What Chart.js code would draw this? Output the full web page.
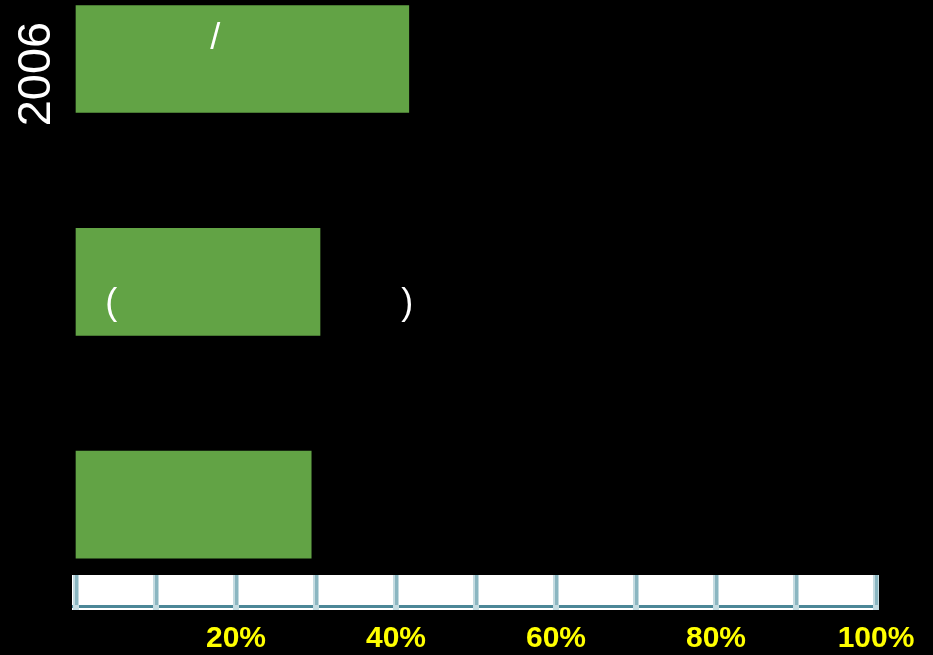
<!DOCTYPE html>
<html>
<head>
<meta charset="utf-8">
<script src="https://cdn.jsdelivr.net/npm/chart.js@4"></script>
<style>
  html, body { margin: 0; padding: 0; background: #000; }
  #c { display: block; }
</style>
</head>
<body>
<canvas id="c" width="933" height="655"></canvas>
<script>
// ---- data ----
const categories = ['2006', '', ''];
const rowIndex = [0, 1, 2];
const shareValues = [41.6, 30.5, 29.4];
const tickValues = [0, 10, 20, 30, 40, 50, 60, 70, 80, 90, 100];
const tickLabels = ['', '', '20%', '', '40%', '', '60%', '', '80%', '', '100%'];
const noteTexts = ['/', '(', ')'];
const noteX = [17.4, 4.4, 41.4];
const noteRow = [0, 1, 1];

const stripPlugin = {
  id: 'strip',
  beforeDraw(chart) {
    const { ctx, width, height } = chart;
    ctx.save();
    ctx.fillStyle = '#000';
    ctx.fillRect(0, 0, width, height);
    const xs = chart.scales.x;
    const x0 = xs.getPixelForValue(0), x1 = xs.getPixelForValue(100);
    const top = xs.top;
    ctx.fillStyle = '#ffffff';
    ctx.fillRect(x0 - 4, top, x1 - x0 + 7, 35);
    ctx.fillStyle = '#4b8797';
    ctx.fillRect(x0 - 4, top + 30, x1 - x0 + 7, 3);
    tickValues.forEach(v => {
      const px = xs.getPixelForValue(v);
      ctx.fillStyle = '#c4dbe1';
      ctx.fillRect(px - 3, top, 6, 35);
      ctx.fillStyle = '#8ab6c1';
      ctx.fillRect(px - 1, top, 3, 30);
    });
    ctx.restore();
  },
  afterDatasetsDraw(chart) {
    const { ctx } = chart;
    const xs = chart.scales.x, ys = chart.scales.y;
    ctx.save();
    ctx.fillStyle = '#ffffff';
    ctx.textAlign = 'center';
    ctx.textBaseline = 'middle';
    ctx.font = '36px "Liberation Sans", Arial, sans-serif';
    noteTexts.forEach((t, i) => {
      const px = xs.getPixelForValue(noteX[i]);
      const py = ys.getPixelForValue(noteRow[i]) + (noteRow[i] === 0 ? -20 : 22);
      ctx.fillText(t, px, py);
    });
    // rotated category label
    ctx.font = '47px "Liberation Sans", Arial, sans-serif';
    ctx.translate(37, ys.getPixelForValue(0) + 15);
    ctx.rotate(-Math.PI / 2);
    ctx.fillText(categories[0], 0, 0);
    ctx.restore();
  }
};

new Chart(document.getElementById('c'), {
  type: 'bar',
  data: {
    datasets: [{
      data: shareValues.map((v, i) => ({ x: v, y: rowIndex[i] })),
      backgroundColor: '#62a345',
      borderWidth: 0,
      barThickness: 107,
      clip: false
    }]
  },
  options: {
    indexAxis: 'y',
    responsive: false,
    animation: false,
    layout: { padding: { left: 76, right: 57, top: 0, bottom: 0 } },
    plugins: { legend: { display: false }, tooltip: { enabled: false } },
    scales: {
      x: {
        type: 'linear',
        min: 0, max: 100,
        afterBuildTicks(scale) { scale.ticks = tickValues.map(v => ({ value: v })); },
        afterFit(scale) { scale.height = 80; scale.paddingLeft = 0; scale.paddingRight = 0; },
        grid: { display: false, drawTicks: false },
        border: { display: false },
        ticks: {
          autoSkip: false,
          maxRotation: 0,
          padding: 46,
          color: '#ffff00',
          font: { family: '"Liberation Sans", Arial, sans-serif', size: 30, weight: 'bold' },
          callback(v) { const i = tickValues.indexOf(v); return i >= 0 ? tickLabels[i] : ''; }
        }
      },
      y: {
        type: 'linear',
        reverse: true,
        offset: false,
        min: -0.2649, max: 2.316,
        display: false
      }
    }
  },
  plugins: [stripPlugin]
});
</script>
</body>
</html>
